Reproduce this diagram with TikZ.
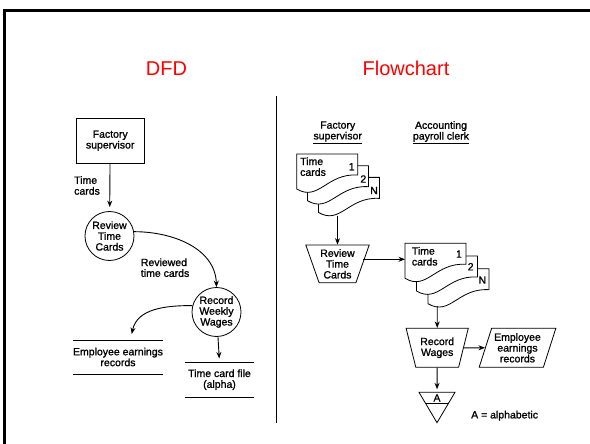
\documentclass[tikz,border=0pt]{standalone}
\usepackage{fontspec}
\setmainfont{Liberation Sans}
\newfontfamily\scanfont[FakeBold=1.2]{Liberation Sans}
\usetikzlibrary{arrows.meta,shapes.geometric}
\def\timecard(#1,#2){\draw[line width=0.8pt, fill=white] (#1,#2) -- ({#1+61},#2) -- ({#1+61},{#2+21}) .. controls ({#1+30},{#2+19}) and ({#1+22},{#2+48}) .. (#1,{#2+35}) -- cycle;}

\tikzset{
	txt/.style={font=\scanfont\fontsize{10.5}{10.8}\selectfont, align=center, inner sep=0pt},
	flow/.style={line width=0.9pt, -{Stealth[length=6.5pt,width=5pt]}},
	proc/.style={txt, draw, circle, line width=0.8pt, minimum size=49pt},
	store/.style={txt, minimum width=68pt, minimum height=34pt},
	title/.style={red, font=\fontsize{20}{24}\selectfont}
}

\begin{document}
\begin{tikzpicture}[x=1pt, y=-1pt]
			%%%%% START %%%%%
			\useasboundingbox (0,0) rectangle (590,444);
			
			\draw[line width=2.7pt] (4.5,460) -- (4.5,10.7) -- (600,10.7);
			\node[title] (dfd) at (166.5,68.3) {DFD};
			\node[title] (fchart) at (406,68.3) {Flowchart};
			\draw[line width=1.4pt] (276.6,96) -- (276.6,423);
			
			% DFD
			\node[txt, draw, line width=0.8pt, minimum width=68.3pt, minimum height=44.7pt] (fsup) at (110.2,140.6) {Factory\\supervisor};
			\node[txt, align=left, anchor=west] (tclbl) at (74,185.5) {Time\\cards};
			\node[proc] (review) at (109.5,236) {Review\\Time\\Cards};
			\node[txt, align=left, anchor=west] (rvlbl) at (140.7,267.7) {Reviewed\\time cards};
			\node[proc] (record) at (216.5,312) {Record\\Weekly\\Wages};
			
			\node[store] (earn) at (118,357) {Employee earnings\\records};
			\draw (earn.north west) -- (earn.north east);
			\draw (earn.south west) -- (earn.south east);
			\coordinate (earnin) at (131.7,334);
			
			\node[store] (tcfile) at (219.5,379.7) {Time card file\\(alpha)};
			\draw (tcfile.north west) -- (tcfile.north east);
			\draw (tcfile.south west) -- (tcfile.south east);
			
			\draw[flow, shorten >=4pt] (fsup) -- (review);
			\draw[flow] (review.10) to[out=0,in=92] (record.north);
			\draw[flow] (record.165) to[out=180,in=78] (earnin);
			\draw[flow, shorten >=4pt] (record) -- (tcfile.north);
			
			% Flowchart
			\node[txt] (fslbl) at (337.7,132.5) {Factory\\\underline{supervisor}};
			\node[txt] (aclbl) at (441,132.5) {Accounting\\\underline{payroll clerk}};
			
			\timecard(318.4,177.4)
			\timecard(307.5,165.7)
			\timecard(296.7,154)
			\node[txt] (sa1) at (351.7,166.7) {1};
			\node[txt] (sa2) at (363.3,179) {2};
			\node[txt] (saN) at (374,190.5) {N};
			\node[txt, align=left, anchor=west] (satc) at (300,166.7) {Time\\cards};
			\coordinate (stackA) at (337.5,216);
			
			\node[txt, trapezium, draw, line width=0.8pt, trapezium left angle=113, trapezium right angle=113, trapezium stretches=true, minimum width=63.6pt, minimum height=37.7pt] (rvw) at (337.5,263.9) {Review\\Time\\Cards};
			
			\timecard(428,268.7)
			\timecard(416.5,256)
			\timecard(405,243.3)
			\node[txt] (sb1) at (459,254) {1};
			\node[txt] (sb2) at (470.7,266.7) {2};
			\node[txt] (sbN) at (482.3,280) {N};
			\node[txt, align=left, anchor=west] (sbtc) at (411.7,256.3) {Time\\cards};
			\coordinate (stackBin) at (405,259.3);
			\coordinate (stackB) at (437.3,306);
			
			\node[txt, trapezium, draw, line width=0.8pt, trapezium left angle=110.4, trapezium right angle=110.4, trapezium stretches=true, minimum width=62.3pt, minimum height=39pt] (rwg) at (437.2,347.8) {Record\\Wages};
			\node[txt, trapezium, draw, line width=0.8pt, trapezium left angle=69, trapezium right angle=111, trapezium stretches=true, minimum width=77pt, minimum height=39pt] (erec) at (517.5,347.8) {Employee\\earnings\\records};
			
			\draw[line width=0.8pt] (419,392.3) -- (455,392.3) -- (437,422.7) -- cycle;
			\draw[line width=0.8pt] (425.5,403.3) -- (448.5,403.3);
			\node[txt] (afile) at (437,398) {A};
			\coordinate (atop) at (437,392.3);
			\node[txt, anchor=west] (akey) at (471,415.7) {A = alphabetic};
			
			\draw[flow] (stackA) -- (rvw.north);
			\draw[flow] (rvw.east |- stackBin) -- (stackBin);
			\draw[flow] (stackB) -- (rwg.north);
			\draw[flow] (rwg.east) -- (erec.west);
			\draw[flow, shorten >=3pt] (rwg.south) -- (atop);
			
			%%%%% END %%%%%
\end{tikzpicture}
\end{document}
